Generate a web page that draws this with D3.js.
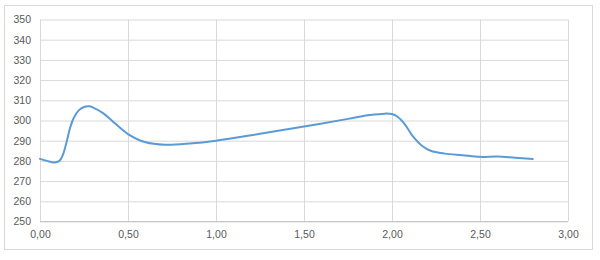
<!DOCTYPE html>
<html><head><meta charset="utf-8">
<script src="https://cdn.jsdelivr.net/npm/d3@7/dist/d3.min.js"></script>
<style>body{margin:0;background:#fff}svg{display:block}</style>
</head><body>
<svg id="c" width="600" height="260"></svg>
<script>
const xValues = [0, 0.04, 0.08, 0.11, 0.13, 0.15, 0.17, 0.19, 0.22, 0.25, 0.28, 0.3, 0.36, 0.42, 0.5, 0.6, 0.71, 0.85, 1.0, 1.25, 1.5, 1.75, 1.875, 1.96, 2.0, 2.03, 2.07, 2.12, 2.17, 2.22, 2.3, 2.4, 2.5, 2.6, 2.7, 2.8];
const yValues = [281, 280, 279.2, 280, 283, 289, 296, 301, 305, 306.7, 307, 306.5, 303.5, 299, 293.3, 289.2, 288, 288.6, 290, 293.4, 297, 300.8, 302.7, 303.4, 303.2, 302, 298.5, 292, 287.5, 285, 283.6, 282.8, 282, 282.2, 281.6, 281];
const xTicks = [0, 0.5, 1, 1.5, 2, 2.5, 3];
const yTicks = [250, 260, 270, 280, 290, 300, 310, 320, 330, 340, 350];

const svg = d3.select("#c");
const fmt = d => d.toFixed(2).replace(".", ",");
const x = d3.scaleLinear().domain([0, 3]).range([40, 568]);
const y = d3.scaleLinear().domain([250, 350]).range([221.5, 19.5]);

svg.append("rect").attr("x", 4.5).attr("y", 5.5).attr("width", 588).attr("height", 244)
  .attr("fill", "#fff").attr("stroke", "#d9d9d9").attr("stroke-width", 1);

const ya = svg.append("g").attr("transform", "translate(40,0)")
  .call(d3.axisLeft(y).tickValues(yTicks).tickSize(-528).tickPadding(9).tickFormat(d3.format("d")));
ya.select(".domain").remove();
ya.selectAll(".tick line").attr("stroke", "#d9d9d9");
ya.selectAll(".tick text").attr("fill", "#595959").attr("font-family", "Liberation Sans, Arial, sans-serif").attr("font-size", 10.5);

const xa = svg.append("g").attr("transform", "translate(0,221.5)")
  .call(d3.axisBottom(x).tickValues(xTicks).tickSize(-202).tickPadding(9).tickFormat(fmt));
xa.select(".domain").remove();
xa.selectAll(".tick line").attr("stroke", "#d9d9d9");
xa.selectAll(".tick text").attr("fill", "#595959").attr("font-family", "Liberation Sans, Arial, sans-serif").attr("font-size", 10.5);

svg.append("line").attr("x1", 40).attr("x2", 568).attr("y1", y(250)).attr("y2", y(250))
  .attr("stroke", "#c8c8c8");

const data = xValues.map((v, i) => [v, yValues[i]]);
svg.append("path").datum(data)
  .attr("fill", "none").attr("stroke", "#5b9bd5").attr("stroke-width", 2).attr("stroke-linejoin", "round").attr("stroke-linecap", "round")
  .attr("d", d3.line().x(d => x(d[0])).y(d => y(d[1])).curve(d3.curveCatmullRom.alpha(0.5)));
</script>
</body></html>
